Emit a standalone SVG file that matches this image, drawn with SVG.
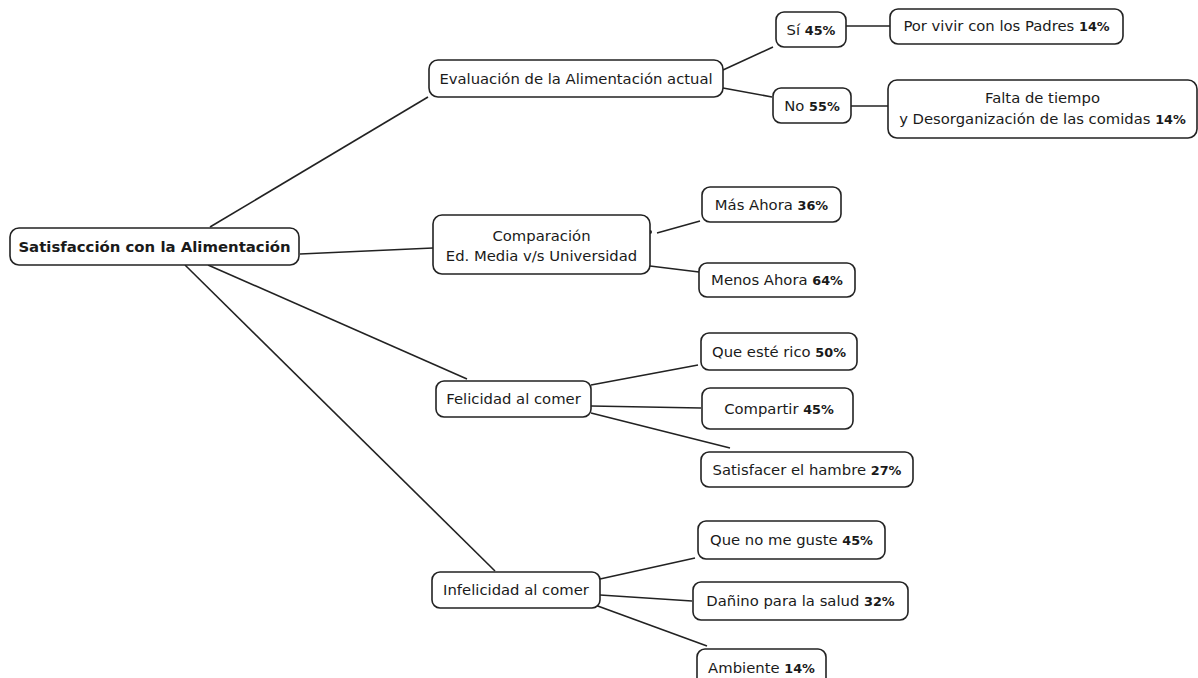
<svg xmlns="http://www.w3.org/2000/svg" width="1198" height="678" viewBox="0 0 1198 678">
<style>
.box{fill:#fff;stroke:#222;stroke-width:1.6}
.t{font-family:"DejaVu Sans","Liberation Sans",sans-serif;font-size:14.8px;fill:#1a1a1a;text-anchor:middle}
.b{font-weight:bold;font-size:12.8px}
.root{font-weight:bold;font-size:14.9px}
.c line{stroke:#222;stroke-width:1.6}
</style>
<rect width="1198" height="678" fill="#fff"/>
<g class="c" id="connectors">
<line x1="210" y1="227" x2="428" y2="97"/>
<line x1="300" y1="254" x2="433" y2="248"/>
<line x1="208" y1="265" x2="467" y2="379"/>
<line x1="185" y1="265" x2="495" y2="571"/>
<line x1="723" y1="70" x2="773" y2="47"/>
<line x1="723" y1="88" x2="772" y2="97"/>
<line x1="846" y1="26" x2="890" y2="26"/>
<line x1="851" y1="106" x2="888" y2="106"/>
<line x1="657" y1="233" x2="700" y2="221"/>
<line x1="650" y1="266" x2="699" y2="272"/>
<line x1="591" y1="385" x2="698" y2="365"/>
<line x1="591" y1="406" x2="701" y2="408"/>
<line x1="591" y1="413" x2="730" y2="448"/>
<line x1="600" y1="579" x2="695" y2="558"/>
<line x1="600" y1="595" x2="692" y2="601"/>
<line x1="595" y1="605" x2="707" y2="646"/>
<circle cx="650" cy="232" r="2" fill="#222"/>
</g>
<g id="root"><rect class="box" x="10" y="228" width="289" height="37" rx="9"/><text class="t root" x="154.5" y="252">Satisfacción con la Alimentación</text></g>
<g id="evaluacion"><rect class="box" x="429" y="60" width="294" height="37" rx="9"/><text class="t" x="576" y="84">Evaluación de la Alimentación actual</text></g>
<g id="si"><rect class="box" x="776" y="12" width="70" height="35" rx="8"/><text class="t" x="811" y="35">Sí <tspan class="b">45%</tspan></text></g>
<g id="padres"><rect class="box" x="890" y="9" width="233" height="35" rx="8"/><text class="t" x="1006.5" y="31">Por vivir con los Padres <tspan class="b">14%</tspan></text></g>
<g id="no"><rect class="box" x="773" y="88" width="78" height="35" rx="8"/><text class="t" x="812" y="111">No <tspan class="b">55%</tspan></text></g>
<g id="falta"><rect class="box" x="888" y="80" width="309" height="58" rx="9"/><text class="t" x="1042.5" y="103">Falta de tiempo</text><text class="t" x="1042.5" y="124">y Desorganización de las comidas <tspan class="b">14%</tspan></text></g>
<g id="comparacion"><rect class="box" x="433" y="215" width="217" height="59" rx="9"/><text class="t" x="541.5" y="241">Comparación</text><text class="t" x="541.5" y="261">Ed. Media v/s Universidad</text></g>
<g id="mas"><rect class="box" x="702" y="187" width="139" height="35" rx="8"/><text class="t" x="771.5" y="210">Más Ahora <tspan class="b">36%</tspan></text></g>
<g id="menos"><rect class="box" x="699" y="263" width="156" height="34" rx="8"/><text class="t" x="777" y="285">Menos Ahora <tspan class="b">64%</tspan></text></g>
<g id="felicidad"><rect class="box" x="436" y="381" width="155" height="36" rx="8"/><text class="t" x="513.5" y="404">Felicidad al comer</text></g>
<g id="rico"><rect class="box" x="701" y="333" width="156" height="37" rx="8"/><text class="t" x="779" y="357">Que esté rico <tspan class="b">50%</tspan></text></g>
<g id="compartir"><rect class="box" x="702" y="388" width="151" height="41" rx="8"/><text class="t" x="779" y="414">Compartir <tspan class="b">45%</tspan></text></g>
<g id="hambre"><rect class="box" x="701" y="452" width="212" height="35" rx="8"/><text class="t" x="807" y="475">Satisfacer el hambre <tspan class="b">27%</tspan></text></g>
<g id="infelicidad"><rect class="box" x="432" y="572" width="168" height="36" rx="8"/><text class="t" x="516" y="595">Infelicidad al comer</text></g>
<g id="gusto"><rect class="box" x="698" y="521" width="187" height="38" rx="8"/><text class="t" x="791.5" y="545">Que no me guste <tspan class="b">45%</tspan></text></g>
<g id="danino"><rect class="box" x="693" y="582" width="215" height="38" rx="8"/><text class="t" x="800.5" y="606">Dañino para la salud <tspan class="b">32%</tspan></text></g>
<g id="ambiente"><rect class="box" x="697" y="649" width="129" height="38" rx="8"/><text class="t" x="761.5" y="673">Ambiente <tspan class="b">14%</tspan></text></g>
</svg>
